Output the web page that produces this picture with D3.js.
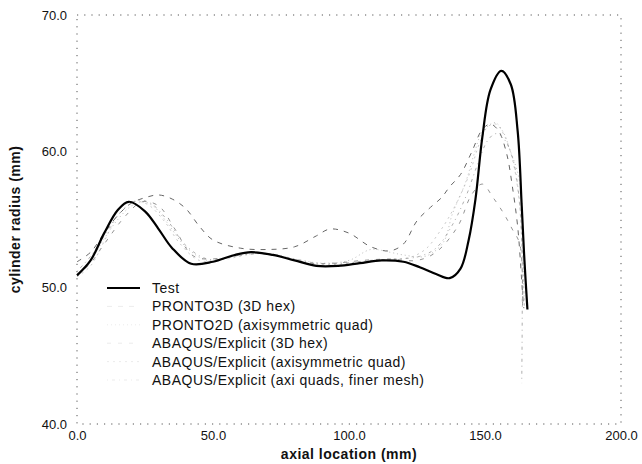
<!DOCTYPE html>
<html>
<head>
<meta charset="utf-8">
<script src="https://cdn.jsdelivr.net/npm/d3@7"></script>
<style>
  body { margin: 0; background: #fff; }
  svg text { font-family: "Liberation Sans", Arial, sans-serif; fill: #111; }
</style>
</head>
<body>
<div id="chart"></div>
<script>
// ticks
var xTicks = [0, 50, 100, 150, 200];
var yTicks = [40, 50, 60, 70];

// legend labels
var seriesNames = [
  "Test",
  "PRONTO3D (3D hex)",
  "PRONTO2D (axisymmetric quad)",
  "ABAQUS/Explicit (3D hex)",
  "ABAQUS/Explicit (axisymmetric quad)",
  "ABAQUS/Explicit (axi quads, finer mesh)"
];

// measured test profile
var testX = [0, 5, 10, 15, 19, 25, 30, 35, 42, 50, 58, 64, 72, 80, 88, 96, 104, 112, 120, 126, 132, 137, 141, 144, 146.5, 149, 152, 156, 159.5, 162, 163.5, 164.5, 165.6];
var testY = [50.9, 52.0, 54.0, 55.7, 56.3, 55.6, 54.3, 52.9, 51.75, 51.9, 52.4, 52.6, 52.4, 52.0, 51.6, 51.6, 51.8, 52.0, 51.9, 51.5, 51.0, 50.7, 51.4, 53.5, 56.5, 61.0, 64.5, 65.9, 64.9, 61.5, 56.0, 52.0, 48.4];

// simulations
var pronto3dX = [0, 5, 10, 15, 20, 25, 30, 35, 40, 45, 50, 60, 70, 80, 88, 93, 100, 108, 115, 120, 125, 130, 134, 137, 141, 145, 149, 152, 155, 158, 160, 162, 163.5, 164.2];
var pronto3dY = [51.9, 52.6, 54.0, 55.3, 56.2, 56.6, 56.8, 56.5, 55.8, 54.5, 53.5, 52.9, 52.8, 53.0, 53.8, 54.3, 54.0, 53.0, 52.7, 53.2, 54.9, 55.9, 56.6, 57.4, 58.3, 59.9, 61.6, 62.0, 61.5, 59.8, 57.5, 54.5, 50.5, 48.5];

var pronto2dX = [0, 5, 10, 15, 20, 24, 28, 33, 40, 48, 60, 70, 80, 90, 100, 108, 115, 120, 128, 134.6, 138, 143, 146, 149, 153.7, 157, 159, 162.2, 163.5, 164, 164.5];
var pronto2dY = [51.0, 52.0, 53.6, 55.0, 56.0, 56.3, 56.0, 54.8, 53.0, 52.0, 52.4, 52.5, 52.1, 51.8, 52.0, 52.8, 52.6, 52.4, 52.3, 53.3, 55.4, 57.8, 59.8, 61.4, 62.1, 61.3, 60.2, 58.3, 56.3, 52.0, 48.5];

var abaqus3dX = [0, 5, 10, 18, 24, 30, 36, 43, 55, 65, 75, 85, 95, 105, 115, 125, 132, 140, 145, 149, 153, 157, 160, 162.8, 163.8];
var abaqus3dY = [50.9, 51.8, 53.2, 55.3, 56.3, 56.0, 54.3, 52.3, 52.2, 52.6, 52.3, 51.8, 51.8, 52.0, 52.1, 52.0, 52.6, 54.5, 56.8, 57.6, 56.6, 55.4, 54.3, 53.2, 48.5];

var abaqusAxiX = [0, 5, 10, 15, 21, 26, 32, 38, 45, 55, 65, 75, 85, 95, 105, 115, 122, 128, 134, 139, 144, 148, 151, 154, 157, 160, 162.5, 163.8, 164.5];
var abaqusAxiY = [50.8, 51.6, 53.4, 55.3, 56.3, 56.1, 54.9, 53.2, 52.0, 52.1, 52.5, 52.3, 51.8, 51.7, 51.9, 52.1, 52.2, 52.8, 54.3, 56.0, 58.2, 60.6, 61.8, 62.0, 61.2, 59.5, 56.5, 52.0, 48.6];

var finerMeshX = [0, 5, 10, 15, 22, 27, 33, 40, 48, 58, 68, 78, 88, 98, 108, 118, 126, 132, 138, 143, 147, 151, 154, 157, 160, 162.2, 163.5, 163.5];
var finerMeshY = [51.2, 52.3, 53.8, 55.3, 56.4, 56.2, 55.0, 53.1, 52.1, 52.3, 52.5, 52.2, 51.8, 51.8, 52.0, 52.1, 52.3, 52.9, 54.6, 56.7, 58.9, 60.8, 61.3, 60.9, 59.6, 57.2, 53.5, 43.0];

class Chart {
  constructor() {
    this.svg = null;
    this.width = 642;
    this.height = 464;
    this.margin = { top: 15, right: 21, bottom: 40, left: 77 };
  }

  init() {
    var vm = this;
    vm.svg = d3.select("#chart").append("svg")
      .attr("width", vm.width)
      .attr("height", vm.height);

    vm.x = d3.scaleLinear().domain([0, 200]).range([vm.margin.left, vm.width - vm.margin.right]);
    vm.y = d3.scaleLinear().domain([40, 70]).range([vm.height - vm.margin.bottom, vm.margin.top]);

    vm.series = [
      { xs: testX, ys: testY, stroke: "#000", width: 2.2, dash: null },
      { xs: pronto3dX, ys: pronto3dY, stroke: "#666", width: 1, dash: "5,6" },
      { xs: pronto2dX, ys: pronto2dY, stroke: "#aaa", width: 0.8, dash: "1,3" },
      { xs: abaqus3dX, ys: abaqus3dY, stroke: "#888", width: 0.9, dash: "4,7" },
      { xs: abaqusAxiX, ys: abaqusAxiY, stroke: "#bbb", width: 0.8, dash: "2,4" },
      { xs: finerMeshX, ys: finerMeshY, stroke: "#999", width: 0.8, dash: "1,4,3,4" }
    ];
  }

  frame() {
    var vm = this;
    var x0 = vm.x(0), x1 = vm.x(200), y0 = vm.y(40), y1 = vm.y(70);
    vm.svg.append("rect")
      .attr("x", x0).attr("y", y1)
      .attr("width", x1 - x0).attr("height", y0 - y1)
      .attr("fill", "none")
      .attr("stroke", "#555")
      .attr("stroke-width", 1)
      .attr("stroke-dasharray", "1.2,6");

    var yAxis = d3.axisLeft(vm.y).tickValues(yTicks).tickSize(0).tickPadding(10).tickFormat(d3.format(".1f"));
    vm.svg.append("g")
      .attr("transform", `translate(${x0},0)`)
      .call(yAxis)
      .call(g => g.select(".domain").remove())
      .selectAll("text").style("font-size", "13px");

    var xAxis = d3.axisBottom(vm.x).tickValues(xTicks).tickSize(0).tickPadding(7).tickFormat(d3.format(".1f"));
    vm.svg.append("g")
      .attr("transform", `translate(0,${y0})`)
      .call(xAxis)
      .call(g => g.select(".domain").remove())
      .selectAll("text").style("font-size", "13px");

    vm.svg.append("text")
      .attr("transform", `translate(20,${(y0 + y1) / 2}) rotate(-90)`)
      .attr("text-anchor", "middle")
      .style("font-size", "14px")
      .style("font-weight", "bold")
      .style("letter-spacing", "0.5px")
      .text("cylinder radius (mm)");

    vm.svg.append("text")
      .attr("x", (x0 + x1) / 2)
      .attr("y", 459)
      .attr("text-anchor", "middle")
      .style("font-size", "14px")
      .style("font-weight", "bold")
      .style("letter-spacing", "0.5px")
      .text("axial location (mm)");
  }

  render() {
    var vm = this;
    var line = d3.line()
      .x(d => vm.x(d[0]))
      .y(d => vm.y(d[1]))
      .curve(d3.curveCatmullRom.alpha(0.5));

    // simulations first, test on top
    vm.series.slice(1).concat(vm.series.slice(0, 1)).forEach(s => {
      vm.svg.append("path")
        .datum(s.xs.map((v, i) => [v, s.ys[i]]))
        .attr("fill", "none")
        .attr("stroke", s.stroke)
        .attr("stroke-width", s.width)
        .attr("stroke-dasharray", s.dash)
        .attr("stroke-linejoin", "round")
        .attr("d", line);
    });

    var legend = vm.svg.append("g").attr("transform", "translate(107,288)");
    seriesNames.forEach((name, i) => {
      var s = vm.series[i];
      var row = legend.append("g").attr("transform", `translate(0,${i * 18.4})`);
      row.append("line")
        .attr("x1", 0).attr("x2", 33)
        .attr("stroke", i === 0 ? s.stroke : "#ddd")
        .attr("stroke-width", i === 0 ? 1.8 : 0.6)
        .attr("stroke-dasharray", s.dash);
      row.append("text")
        .attr("x", 45)
        .attr("dy", "0.35em")
        .style("font-size", "14px")
        .style("letter-spacing", "0.5px")
        .text(name);
    });
  }
}

var chart = new Chart();
chart.init();
chart.frame();
chart.render();
</script>
</body>
</html>
